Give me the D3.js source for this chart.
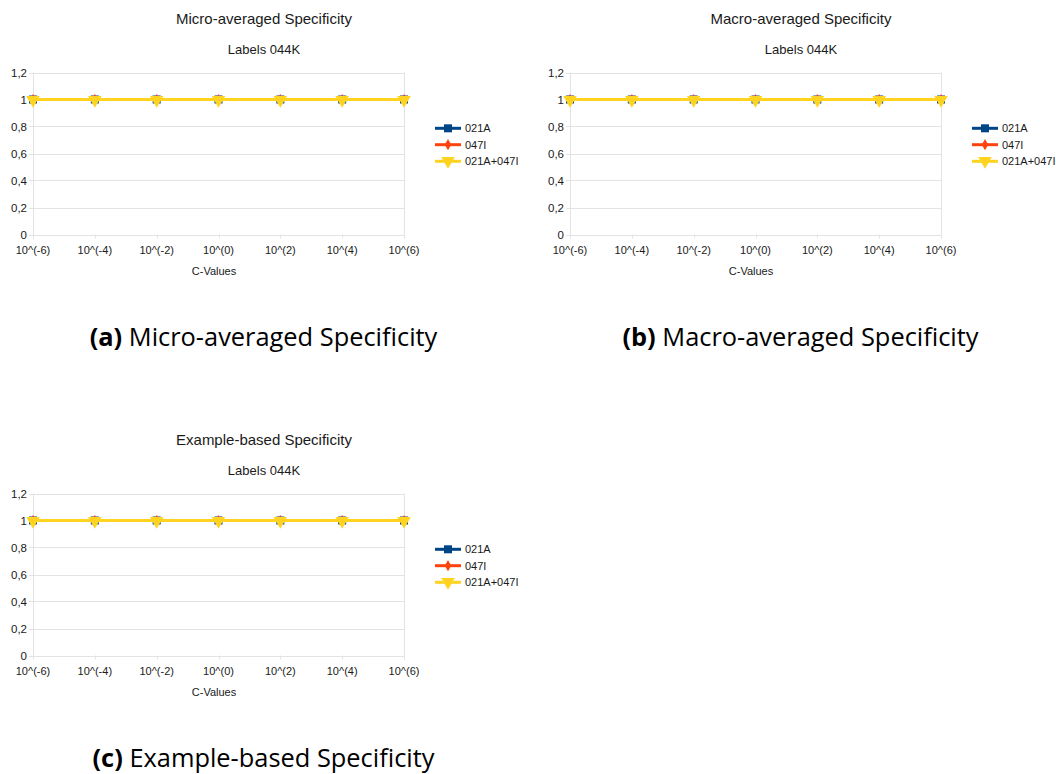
<!DOCTYPE html>
<html>
<head>
<meta charset="utf-8">
<script src="https://cdn.jsdelivr.net/npm/d3@7"></script>
<style>
  html, body { margin: 0; padding: 0; background: #fff; }
  svg { display: block; }
</style>
</head>
<body>
<svg id="chart" width="1056" height="774"></svg>
<script>
// ---- data ----
const categories = ["10^(-6)", "10^(-4)", "10^(-2)", "10^(0)", "10^(2)", "10^(4)", "10^(6)"];
const yTicks = [0, 0.2, 0.4, 0.6, 0.8, 1, 1.2];
const seriesNames = ["021A", "047I", "021A+047I"];
const seriesColors = ["#004586", "#ff420e", "#ffd320"];

const microA = [1, 1, 1, 1, 1, 1, 1];
const microI = [1, 1, 1, 1, 1, 1, 1];
const microAI = [1, 1, 1, 1, 1, 1, 1];

const macroA = [1, 1, 1, 1, 1, 1, 1];
const macroI = [1, 1, 1, 1, 1, 1, 1];
const macroAI = [1, 1, 1, 1, 1, 1, 1];

const exampleA = [1, 1, 1, 1, 1, 1, 1];
const exampleI = [1, 1, 1, 1, 1, 1, 1];
const exampleAI = [1, 1, 1, 1, 1, 1, 1];

const panels = [
  { title: "Micro-averaged Specificity", subtitle: "Labels 044K", xTitle: "C-Values",
    tag: "(a)", caption: "Micro-averaged Specificity", series: [microA, microI, microAI], dx: 0, dy: 0 },
  { title: "Macro-averaged Specificity", subtitle: "Labels 044K", xTitle: "C-Values",
    tag: "(b)", caption: "Macro-averaged Specificity", series: [macroA, macroI, macroAI], dx: 537, dy: 0 },
  { title: "Example-based Specificity", subtitle: "Labels 044K", xTitle: "C-Values",
    tag: "(c)", caption: "Example-based Specificity", series: [exampleA, exampleI, exampleAI], dx: 0, dy: 421 }
];

const svg = d3.select("#chart");
const FONT = "'Liberation Sans', Arial, sans-serif";
const CAPFONT = "'Open Sans', 'Noto Sans', sans-serif";
const gridColor = "#e3e3e3";

const plotL = 33, plotR = 404, plotT = 72.5, plotB = 234.5;
const x = d3.scalePoint().domain(categories).range([plotL, plotR]);
const y = d3.scaleLinear().domain([0, 1.2]).range([plotB, plotT]);

const symbols = [d3.symbolSquare, d3.symbolDiamond, d3.symbolTriangle];
const symSizes = [64, 36, 80];

function marker(g, i, cx, cy) {
  const p = g.append("path")
    .attr("d", d3.symbol().type(symbols[i]).size(symSizes[i])())
    .attr("fill", seriesColors[i]);
  if (i === 2) p.attr("transform", `translate(${cx},${cy + 0.5}) rotate(180)`);
  else p.attr("transform", `translate(${cx},${cy})`);
}

panels.forEach(p => {
  const g = svg.append("g").attr("transform", `translate(${p.dx},${p.dy})`);
  const cx = 264;

  g.append("text").attr("x", cx).attr("y", 23.5).attr("text-anchor", "middle")
    .style("font-family", FONT).style("font-size", "15px").attr("fill", "#1a1a1a").text(p.title);
  g.append("text").attr("x", cx).attr("y", 54).attr("text-anchor", "middle")
    .style("font-family", FONT).style("font-size", "13px").attr("fill", "#1a1a1a").text(p.subtitle);

  // horizontal grid
  g.append("g").selectAll("line").data(yTicks).join("line")
    .attr("x1", plotL - 4).attr("x2", plotR)
    .attr("y1", d => Math.round(y(d)) + 0.5).attr("y2", d => Math.round(y(d)) + 0.5)
    .attr("stroke", gridColor).attr("stroke-width", 1);
  // verticals left/right
  g.append("line").attr("x1", plotL + 0.5).attr("x2", plotL + 0.5).attr("y1", plotT).attr("y2", plotB + 4)
    .attr("stroke", gridColor);
  g.append("line").attr("x1", plotR + 0.5).attr("x2", plotR + 0.5).attr("y1", plotT).attr("y2", plotB + 4)
    .attr("stroke", gridColor);
  // x ticks
  g.append("g").selectAll("line").data(categories).join("line")
    .attr("x1", d => Math.round(x(d)) + 0.5).attr("x2", d => Math.round(x(d)) + 0.5)
    .attr("y1", plotB).attr("y2", plotB + 4).attr("stroke", gridColor);

  // y labels
  const fmt = d => d3.format(".1~f")(d).replace(".", ",");
  g.append("g").selectAll("text").data(yTicks).join("text")
    .attr("x", 27).attr("y", d => y(d) + 4).attr("text-anchor", "end")
    .style("font-family", FONT).style("font-size", "11.5px").attr("fill", "#1a1a1a")
    .text(fmt);
  // x labels
  g.append("g").selectAll("text").data(categories).join("text")
    .attr("x", d => x(d)).attr("y", 254).attr("text-anchor", "middle")
    .style("font-family", FONT).style("font-size", "11px").attr("fill", "#1a1a1a")
    .text(d => d);
  g.append("text").attr("x", 214).attr("y", 275).attr("text-anchor", "middle")
    .style("font-family", FONT).style("font-size", "11px").attr("fill", "#1a1a1a").text(p.xTitle);

  // series
  const line = d3.line().x((d, i) => x(categories[i])).y(d => y(d));
  p.series.forEach((vals, i) => {
    g.append("path").datum(vals).attr("d", line).attr("fill", "none")
      .attr("stroke", seriesColors[i]).attr("stroke-width", 3);
    vals.forEach((v, j) => marker(g, i, x(categories[j]), y(v)));
  });

  // legend
  const legY = [128.3, 144.7, 161.3];
  seriesNames.forEach((name, i) => {
    g.append("line").attr("x1", 435).attr("x2", 461).attr("y1", legY[i]).attr("y2", legY[i])
      .attr("stroke", seriesColors[i]).attr("stroke-width", 3);
    marker(g, i, 448, legY[i] - (i === 2 ? 1 : 0));
    g.append("text").attr("x", 465).attr("y", legY[i] + 4)
      .style("font-family", FONT).style("font-size", "11px").attr("fill", "#1a1a1a").text(name);
  });

  // caption
  const cap = g.append("text").attr("x", 263.5).attr("y", 346).attr("text-anchor", "middle")
    .style("font-family", CAPFONT).style("font-size", "25.4px").attr("fill", "#000");
  cap.append("tspan").style("font-weight", "bold").text(p.tag);
  cap.append("tspan").text(" " + p.caption);
});
</script>
</body>
</html>
